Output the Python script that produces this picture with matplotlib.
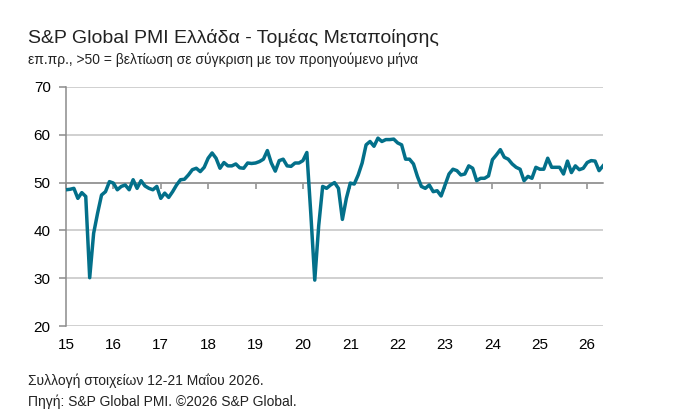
import numpy as np
import matplotlib
matplotlib.use("Agg")
import matplotlib.pyplot as plt

plt.rcParams['font.family'] = ['Liberation Sans', 'DejaVu Sans']

# Μηνιαίες τιμές PMI, Ιαν 2015 - Μάιος 2026
pmi_2015 = [48.5, 48.6, 48.8, 46.7, 47.9, 47.1, 30.1, 39.4, 43.6, 47.4, 48.1, 50.2]
pmi_2016 = [49.9, 48.5, 49.2, 49.5, 48.5, 50.6, 48.8, 50.4, 49.3, 48.8, 48.5, 49.2]
pmi_2017 = [46.7, 47.8, 46.9, 48.1, 49.5, 50.6, 50.7, 51.6, 52.7, 53.0, 52.3, 53.2]
pmi_2018 = [55.1, 56.2, 55.1, 53.0, 54.2, 53.5, 53.5, 53.9, 53.1, 53.0, 54.1, 54.0]
pmi_2019 = [54.1, 54.4, 54.9, 56.7, 54.1, 52.4, 54.6, 54.9, 53.5, 53.4, 54.1, 54.1]
pmi_2020 = [54.6, 56.3, 43.5, 29.6, 41.0, 49.2, 48.8, 49.5, 50.0, 48.8, 42.3, 46.7]
pmi_2021 = [49.9, 49.7, 51.6, 54.1, 57.9, 58.6, 57.6, 59.3, 58.6, 59.0, 59.0, 59.1]
pmi_2022 = [58.3, 57.9, 54.9, 54.9, 53.9, 51.3, 49.2, 48.8, 49.5, 48.1, 48.3, 47.2]
pmi_2023 = [49.5, 51.8, 52.8, 52.5, 51.6, 51.8, 53.5, 53.0, 50.4, 50.9, 50.9, 51.4]
pmi_2024 = [54.8, 55.8, 56.9, 55.3, 54.9, 53.9, 53.2, 52.8, 50.4, 51.3, 50.9, 53.2]
pmi_2025 = [52.8, 52.8, 55.1, 53.2, 53.2, 53.2, 51.8, 54.5, 52.1, 53.5, 52.7, 53.0]
pmi_2026 = [54.2, 54.6, 54.5, 52.5, 53.5]

years = list(range(2015, 2027))
year_labels = [str(y)[2:] for y in years]

pmi = np.array(pmi_2015 + pmi_2016 + pmi_2017 + pmi_2018 + pmi_2019 + pmi_2020
               + pmi_2021 + pmi_2022 + pmi_2023 + pmi_2024 + pmi_2025 + pmi_2026)
t = 2015 + np.arange(len(pmi)) / 12

fig = plt.figure(figsize=(6.73, 4.2), dpi=100)
ax = fig.add_axes([66 / 673, 1 - 326 / 420, (603 - 66) / 673, (326 - 87) / 420])

ax.plot(t, pmi, color='#03708A', lw=2.5, solid_joinstyle='round', zorder=3)

ax.set_ylim(20, 70)
ax.set_xlim(t[0], t[-1])
ax.set_yticks(range(20, 71, 10))
ax.set_xticks(years)
ax.set_xticklabels(year_labels)

ax.grid(axis='y', color='#c8c8c8', lw=1.2)
ax.set_axisbelow(True)

for s in ['top', 'right']:
    ax.spines[s].set_visible(False)
ax.spines['left'].set_color('#8c8c8c')
ax.spines['left'].set_linewidth(1.1)
ax.spines['bottom'].set_position(('data', 50))
ax.spines['bottom'].set_color('#8c8c8c')
ax.spines['bottom'].set_linewidth(1.1)

ax.tick_params(axis='y', direction='out', length=5, color='#8c8c8c', width=1.1,
               labelsize=11, pad=6)
ax.tick_params(axis='x', direction='out', length=4, color='#8c8c8c', width=1.1,
               labelsize=11, pad=108)

fig.text(28 / 673, 1 - 38 / 420, 'S&P Global PMI Ελλάδα - Τομέας Μεταποίησης',
         fontsize=14, va='center', ha='left', color='#222222')
fig.text(28 / 673, 1 - 60 / 420, 'επ.πρ., >50 = βελτίωση σε σύγκριση με τον προηγούμενο μήνα',
         fontsize=10, va='center', ha='left', color='#222222')
fig.text(28 / 673, 1 - 381 / 420, 'Συλλογή στοιχείων 12-21 Μαΐου 2026.',
         fontsize=10, va='center', ha='left', color='#222222')
fig.text(28 / 673, 1 - 402 / 420, 'Πηγή: S&P Global PMI. ©2026 S&P Global.',
         fontsize=10, va='center', ha='left', color='#222222')

fig.savefig('out.png', dpi=100)
